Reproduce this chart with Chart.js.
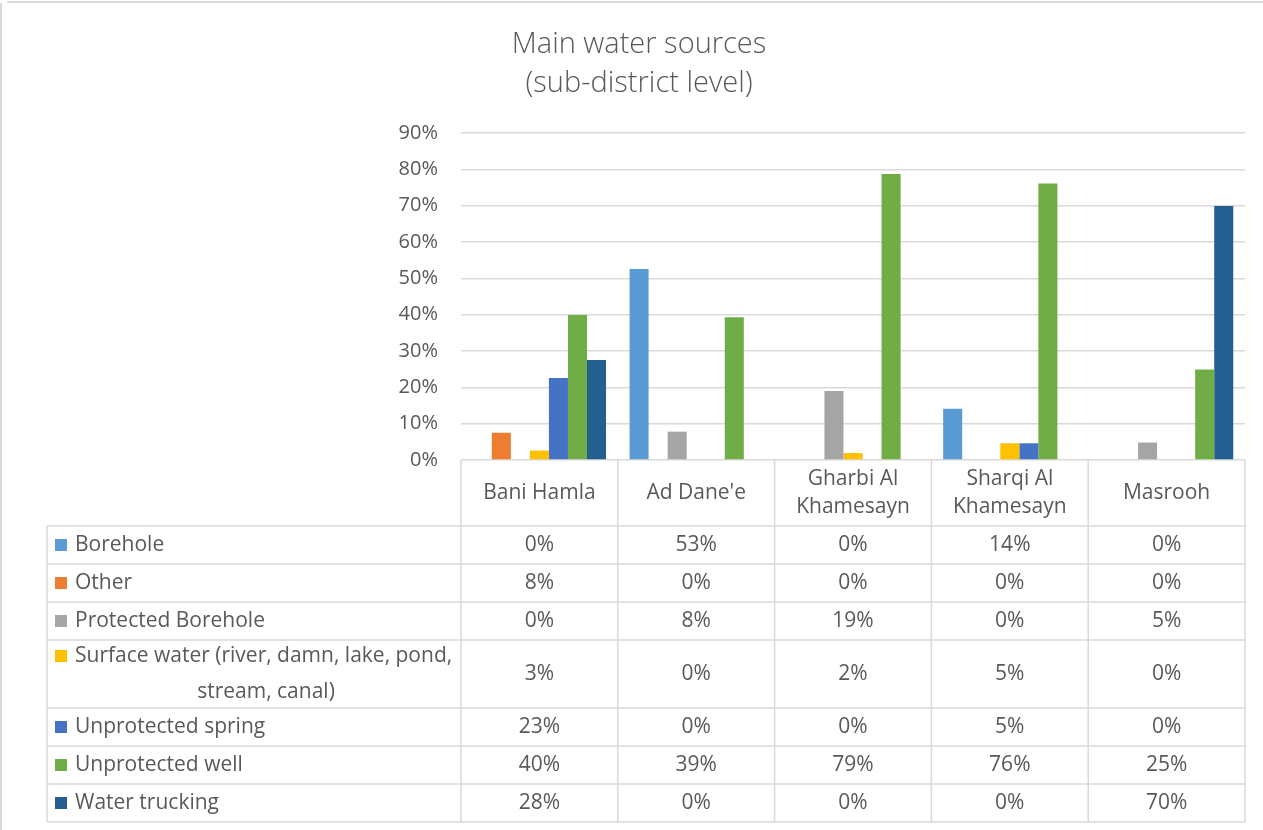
<!DOCTYPE html>
<html>
<head>
<meta charset="utf-8">
<title>Main water sources</title>
<script src="https://cdn.jsdelivr.net/npm/chart.js@4.4.1/dist/chart.umd.min.js"></script>
<style>
    html, body { margin: 0; padding: 0; background: #ffffff; }
    #wrap { position: relative; width: 1263px; height: 830px; }
</style>
</head>
<body>
<div id="wrap"><canvas id="waterChart"></canvas></div>
<script>
// Sub-districts (header lines as shown in the table)
var categories = [['Bani Hamla'], ["Ad Dane'e"], ['Gharbi Al', 'Khamesayn'], ['Sharqi Al', 'Khamesayn'], ['Masrooh']];

// Share of households per main water source, in %
var borehole          = [0, 52.6, 0, 14.1, 0];
var other             = [7.5, 0, 0, 0, 0];
var protectedBorehole = [0, 7.8, 19.0, 0, 4.8];
var surfaceWater      = [2.6, 0, 1.9, 4.6, 0];
var unprotectedSpring = [22.6, 0, 0, 4.6, 0];
var unprotectedWell   = [39.9, 39.3, 78.7, 76.1, 24.9];
var waterTrucking     = [27.5, 0, 0, 0, 69.9];

var seriesNames = ['Borehole', 'Other', 'Protected Borehole',
    'Surface water (river, damn, lake, pond, stream, canal)',
    'Unprotected spring', 'Unprotected well', 'Water trucking'];
var seriesData = [borehole, other, protectedBorehole, surfaceWater, unprotectedSpring, unprotectedWell, waterTrucking];
var seriesColors = ['#5B9BD5', '#ED7D31', '#A5A5A5', '#FFC000', '#4472C4', '#70AD47', '#255E91'];

var yTicks = [0, 10, 20, 30, 40, 50, 60, 70, 80, 90];

var TEXT = '#595959';
var GRID = '#D9D9D9';
var FONT = "'Open Sans', sans-serif";

// table geometry
var tableLeft = 47;
var headerHeight = 66;
var rowHeights = [38, 38, 38, 68, 38, 38, 38];
var lineHeight = 36;

function wrapText(ctx, text, maxWidth) {
    var words = text.split(' ');
    var lines = [];
    var line = '';
    words.forEach(function(w) {
        var test = line ? line + ' ' + w : w;
        if (ctx.measureText(test).width > maxWidth && line) {
            lines.push(line);
            line = w;
        } else {
            line = test;
        }
    });
    if (line) lines.push(line);
    return lines;
}

// draws the frame and the data table under the plot
var dataTable = {
    id: 'dataTable',
    beforeDraw: function(chart) {
        var ctx = chart.ctx;
        ctx.save();
        ctx.strokeStyle = GRID;
        ctx.lineWidth = 2;
        ctx.beginPath();
        ctx.moveTo(1, chart.height);
        ctx.lineTo(1, 3);
        ctx.moveTo(7, 2);
        ctx.lineTo(chart.width, 2);
        ctx.stroke();
        ctx.restore();
    },
    afterDraw: function(chart) {
        var ctx = chart.ctx;
        var area = chart.chartArea;
        var xs = chart.scales.x;
        var n = categories.length;
        var colW = (area.right - area.left) / n;
        var top = area.bottom;
        var headBottom = top + headerHeight;
        var bottom = headBottom + rowHeights.reduce(function(a, b) { return a + b; }, 0);

        ctx.save();
        ctx.strokeStyle = GRID;
        ctx.lineWidth = 1.5;
        ctx.beginPath();
        // column edges
        for (var i = 0; i <= n; i++) {
            var x = area.left + i * colW;
            ctx.moveTo(x, top);
            ctx.lineTo(x, bottom);
        }
        ctx.moveTo(tableLeft, headBottom);
        ctx.lineTo(tableLeft, bottom);
        // row edges
        var y = headBottom;
        ctx.moveTo(tableLeft, y);
        ctx.lineTo(area.right, y);
        rowHeights.forEach(function(h) {
            y += h;
            ctx.moveTo(tableLeft, y);
            ctx.lineTo(area.right, y);
        });
        ctx.stroke();

        ctx.fillStyle = TEXT;
        ctx.font = '21px ' + FONT;
        ctx.textBaseline = 'middle';
        ctx.textAlign = 'center';

        // category headers
        categories.forEach(function(lines, i) {
            var cx = xs.getPixelForValue(i);
            var cy = top + headerHeight / 2;
            var lh = 28;
            lines.forEach(function(l, k) {
                ctx.fillText(l, cx, cy + (k - (lines.length - 1) / 2) * lh);
            });
        });

        // series rows
        var textLeft = tableLeft + 28;
        var textRight = area.left - 4;
        y = headBottom;
        seriesNames.forEach(function(name, s) {
            var h = rowHeights[s];
            var cy = y + h / 2;
            ctx.font = '21px ' + FONT;
            var lines = wrapText(ctx, name, textRight - textLeft);
            var firstY = cy - (lines.length - 1) * lineHeight / 2;

            ctx.fillStyle = seriesColors[s];
            ctx.fillRect(tableLeft + 8, firstY - 6, 12, 12);

            ctx.fillStyle = TEXT;
            lines.forEach(function(l, k) {
                var ly = firstY + k * lineHeight;
                if (k === 0) {
                    ctx.textAlign = 'left';
                    ctx.fillText(l, textLeft, ly);
                } else {
                    ctx.textAlign = 'center';
                    ctx.fillText(l, (textLeft + textRight) / 2, ly);
                }
            });

            ctx.textAlign = 'center';
            seriesData[s].forEach(function(v, i) {
                ctx.fillText(Math.round(v) + '%', xs.getPixelForValue(i), cy);
            });
            y += h;
        });
        ctx.restore();
    }
};

var ctx = document.getElementById('waterChart');
new Chart(ctx, {
    type: 'bar',
    data: {
        labels: categories,
        datasets: seriesNames.map(function(name, s) {
            return {
                label: name,
                data: seriesData[s],
                backgroundColor: seriesColors[s],
                borderWidth: 0,
                barPercentage: 1,
                categoryPercentage: 0.85
            };
        })
    },
    options: {
        responsive: true,
        maintainAspectRatio: false,
        animation: false,
        layout: {
            padding: { left: 33, right: 18, top: 0, bottom: 370 }
        },
        plugins: {
            legend: { display: false },
            tooltip: { enabled: false },
            title: {
                display: true,
                text: ['Main water sources', '(sub-district level)'],
                color: TEXT,
                font: { family: FONT, size: 29, weight: '300', lineHeight: 1.345 },
                padding: { top: 25, bottom: 30 }
            }
        },
        scales: {
            x: {
                display: false
            },
            y: {
                min: 0,
                max: 90,
                afterFit: function(scale) { scale.width = 428; },
                afterBuildTicks: function(scale) {
                    scale.ticks = yTicks.map(function(v) { return { value: v }; });
                },
                border: { display: false },
                grid: { color: GRID, lineWidth: 1.5, drawTicks: false },
                ticks: {
                    color: TEXT,
                    padding: 23,
                    font: { family: FONT, size: 20 },
                    callback: function(v) { return v + '%'; }
                }
            }
        }
    },
    plugins: [dataTable]
});
</script>
</body>
</html>
